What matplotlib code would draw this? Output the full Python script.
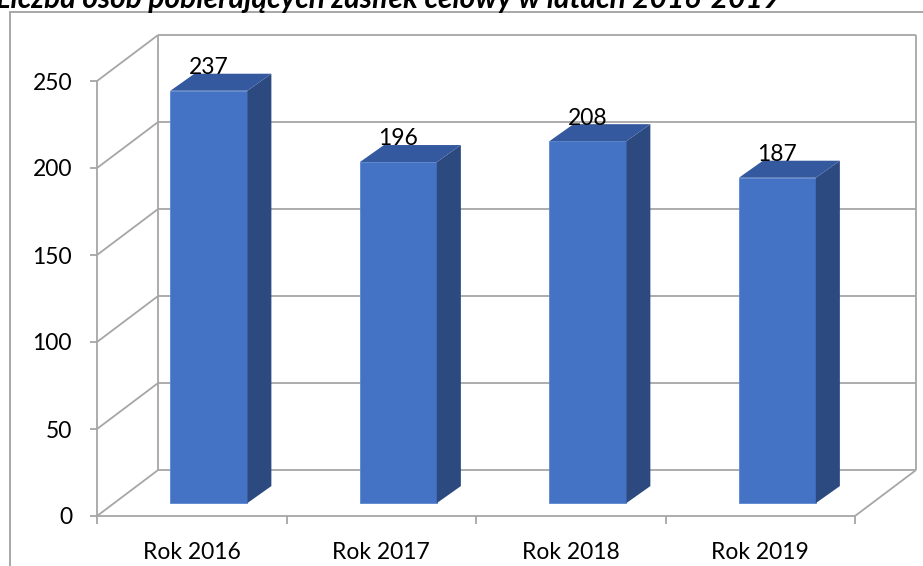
import matplotlib
matplotlib.use("Agg")
import matplotlib.pyplot as plt
from matplotlib.patches import Polygon, FancyBboxPatch

# ---- data ----
categories = ["Rok 2016", "Rok 2017", "Rok 2018", "Rok 2019"]
values = [237, 196, 208, 187]
yticks = [0, 50, 100, 150, 200, 250]
title = "Liczba osób pobierających zasiłek celowy w latach 2016-2019"

# ---- style ----
W, H = 923, 566
FONT = "Lato"
FS = 16.5
GRID = "#A6A6A6"
FRONT = "#4472C4"
SIDE = "#2C4A80"
TOP = "#34599E"

fig = plt.figure(figsize=(W / 100, H / 100), dpi=100)
ax = fig.add_axes([97 / W, 50 / H, 758 / W, 435 / H])
ax.set_xlim(0, len(categories))
ax.set_ylim(0, yticks[-1])

# depth (in data units) of the 3D box and of the bars
DX, DY = 0.322, 26.4          # wall depth
FX, FY = 0.28 * DX, 0.28 * DY  # front face of bars
BX, BY = 0.127, 9.8           # bar depth
BW = 0.406                    # bar width

n = len(categories)
lkw = dict(color=GRID, lw=1.3, clip_on=False, zorder=1, solid_capstyle="butt")
# back wall gridlines + left wall diagonals
for v in yticks:
    ax.plot([DX, n + DX], [v + DY, v + DY], **lkw)
    ax.plot([0, DX], [v, v + DY], **lkw)
# verticals
ax.plot([DX, DX], [DY, yticks[-1] + DY], **lkw)
ax.plot([n + DX, n + DX], [DY, yticks[-1] + DY], **lkw)
# floor right edge
ax.plot([n, n + DX], [0, DY], **lkw)

# spines = front edges
for s in ["top", "right"]:
    ax.spines[s].set_visible(False)
for s in ["left", "bottom"]:
    ax.spines[s].set_color(GRID)
    ax.spines[s].set_linewidth(1.3)
ax.patch.set_visible(False)

# ticks
ax.set_yticks(yticks)
ax.set_yticklabels([str(t) for t in yticks], fontsize=FS, family=FONT)
ax.tick_params(axis="y", length=5, width=1.3, color=GRID, pad=13)
ax.set_xticks(range(n + 1))
ax.set_xticklabels([])
ax.tick_params(axis="x", which="major", length=6, width=1.3, color=GRID)
ax.set_xticks([i + 0.5 for i in range(n)], minor=True)
ax.set_xticklabels(categories, minor=True, fontsize=FS, family=FONT)
ax.tick_params(axis="x", which="minor", length=0, pad=19)

# bars
xs = [i + 0.5 for i in range(n)]
ax.bar([x + FX for x in xs], values, width=BW, bottom=FY, color=FRONT,
       edgecolor="#5B86D0", linewidth=0.6, clip_on=False, zorder=3)
for x, v in zip(xs, values):
    x0 = x + FX - BW / 2
    x1 = x + FX + BW / 2
    top = v + FY
    ax.add_patch(Polygon([(x1, FY), (x1, top), (x1 + BX, top + BY), (x1 + BX, FY + BY)],
                         closed=True, facecolor=SIDE, edgecolor="none", clip_on=False, zorder=3))
    ax.add_patch(Polygon([(x0, top), (x1, top), (x1 + BX, top + BY), (x0 + BX, top + BY)],
                         closed=True, facecolor=TOP, edgecolor="none", clip_on=False, zorder=3))
    ax.text(x + FX, top + BY + 3.5, str(v), ha="center", va="center",
            fontsize=FS, family=FONT, color="black", zorder=5)

# outer chart frame
fig.patches.append(FancyBboxPatch((10 / W, -20 / H), 940 / W, (H + 20 - 12) / H,
                                  boxstyle="square,pad=0", transform=fig.transFigure,
                                  facecolor="none", edgecolor="#A0A0A0", linewidth=1.3))

# title (cut at the top as in the original)
fig.text(-4 / W, 1 - 8 / H, title, ha="left", va="baseline", fontsize=21.5,
         family=FONT, weight="bold", style="italic", color="black")

fig.savefig("out.png", dpi=100, facecolor="white")
